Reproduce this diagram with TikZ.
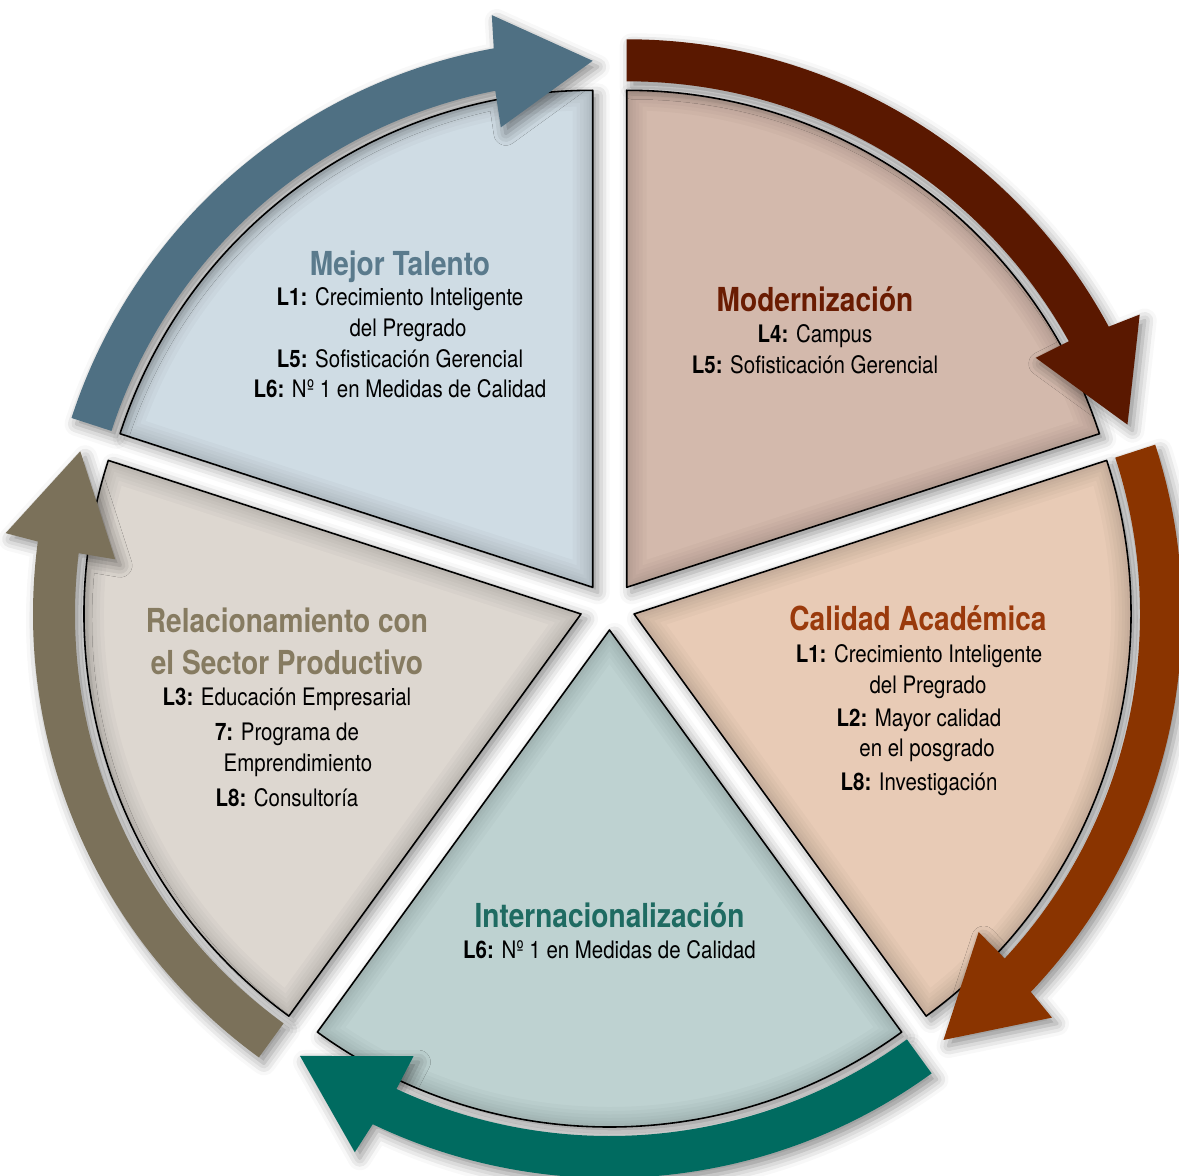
\documentclass[tikz,border=0pt]{standalone}
\usepackage{fontspec}
\setmainfont{TeX Gyre Heros}[FakeStretch=0.85]
\usetikzlibrary{shadows.blur}

\definecolor{talentofill}{HTML}{CFDCE4}
\definecolor{talentodark}{HTML}{4F7083}
\definecolor{talentotext}{HTML}{5A7A8C}
\definecolor{modernfill}{HTML}{D3B9AC}
\definecolor{moderndark}{HTML}{5A1800}
\definecolor{moderntext}{HTML}{6A1C02}
\definecolor{calidadfill}{HTML}{E8CBB6}
\definecolor{calidaddark}{HTML}{8A3400}
\definecolor{calidadtext}{HTML}{9A3A0C}
\definecolor{interfill}{HTML}{BED2D1}
\definecolor{interdark}{HTML}{006B60}
\definecolor{intertext}{HTML}{1F6B62}
\definecolor{relfill}{HTML}{DDD7D0}
\definecolor{reldark}{HTML}{7B715A}
\definecolor{reltext}{HTML}{867B61}

\newcommand{\titlefont}{\fontsize{9.4}{11.9}\selectfont\bfseries}
\newcommand{\bodyfont}{\fontsize{6.85}{8.7}\selectfont}

% one piece of the wheel: apex, first angle, second angle, fill
\newcommand{\wheelpiece}[4]{%
\fill[#4, piece shadow] (#1) -- ++(#2:4.97) arc[start angle=#2, end angle=#3, radius=4.97] -- cycle;
\begin{scope}
\clip (#1) -- ++(#2:4.97) arc[start angle=#2, end angle=#3, radius=4.97] -- cycle;
\draw [rim, line width=0.40cm] (#1) -- ++(#2:4.97) arc[start angle=#2, end angle=#3, radius=4.97] -- cycle;
\draw [rim, line width=0.32cm] (#1) -- ++(#2:4.97) arc[start angle=#2, end angle=#3, radius=4.97] -- cycle;
\draw [rim, line width=0.25cm] (#1) -- ++(#2:4.97) arc[start angle=#2, end angle=#3, radius=4.97] -- cycle;
\draw [rim, line width=0.18cm] (#1) -- ++(#2:4.97) arc[start angle=#2, end angle=#3, radius=4.97] -- cycle;
\draw [rim, line width=0.12cm] (#1) -- ++(#2:4.97) arc[start angle=#2, end angle=#3, radius=4.97] -- cycle;
\draw [rim, line width=0.07cm] (#1) -- ++(#2:4.97) arc[start angle=#2, end angle=#3, radius=4.97] -- cycle;
\end{scope}
\draw [line width=0.45pt] (#1) -- ++(#2:4.97) arc[start angle=#2, end angle=#3, radius=4.97] -- cycle;}

% bent arrow round a piece: apex, tail angle, tip angle, colour
\newcommand{\bentarrow}[4]{%
\begin{scope}[shift={(#1)}]
\fill[#4, arrow shadow] (#2:5.06) arc[start angle=#2, end angle=#3+11.1, radius=5.06]
  -- (#3+11.3:4.69) -- (#3:5.265) -- (#3+10:5.81) -- (#3+10.4:5.48)
  arc[start angle=#3+10.4, end angle=#2, radius=5.48] -- cycle;
\end{scope}}

\begin{document}
\begin{tikzpicture}[line cap=round,line join=round,x=1.0cm,y=1.0cm,
  piece shadow/.style={blur shadow={shadow xshift=0.05cm,shadow yshift=-0.05cm,shadow blur radius=0.12cm,shadow opacity=45}},
  arrow shadow/.style={blur shadow={shadow xshift=0.05cm,shadow yshift=-0.06cm,shadow blur radius=0.12cm,shadow opacity=45}},
  rim/.style={black,opacity=0.025},
  heading/.style={font=\titlefont,align=center,inner sep=0pt},
  listing/.style={font=\bodyfont,align=center,inner sep=0pt}]

\useasboundingbox (-6.095,-5.67) rectangle (5.695,6.08);

\wheelpiece{-0.168,0.207}{90}{162}{talentofill}
\wheelpiece{0.172,0.207}{18}{90}{modernfill}
\wheelpiece{0.245,-0.06}{-54}{18}{calidadfill}
\wheelpiece{0,-0.22}{234}{306}{interfill}
\wheelpiece{-0.285,-0.06}{162}{234}{relfill}

\bentarrow{-0.168,0.207}{162}{90}{talentodark}
\bentarrow{0.172,0.207}{90}{18}{moderndark}
\bentarrow{0.245,-0.06}{18}{-54}{calidaddark}
\bentarrow{0,-0.22}{306}{234}{interdark}
\bentarrow{-0.285,-0.06}{234}{162}{reldark}

\node[heading, text=talentotext] (talento) at (-2.095,3.41) {Mejor Talento};
\node[listing] (talentolist) at (-2.095,2.65) {\textbf{L1:} Crecimiento Inteligente\\
  \hspace*{0.16cm}del Pregrado\\ \textbf{L5:} Sofisticación Gerencial\\ \textbf{L6:} Nº 1 en Medidas de Calidad};

\node[heading, text=moderntext] (modern) at (2.055,3.09) {Modernización};
\node[listing] (modernlist) at (2.055,2.59) {\textbf{L4:} Campus\\ \textbf{L5:} Sofisticación Gerencial};

\node[heading, text=calidadtext] (calidad) at (3.085,-0.10) {Calidad Académica};
\node[listing] (calidadlist) at (3.095,-1.12) {\textbf{L1:} Crecimiento Inteligente\\
  \hspace*{0.18cm}del Pregrado\\[0.025cm] \textbf{L2:} Mayor calidad\\ \hspace*{0.16cm}en el posgrado\\[0.025cm] \textbf{L8:} Investigación};

\node[heading, text=intertext] (inter) at (0,-3.07) {Internacionalización};
\node[listing] (interlist) at (0,-3.42) {\textbf{L6:} Nº 1 en Medidas de Calidad};

\node[heading, text=reltext] (rel) at (-3.225,-0.33) {Relacionamiento con\\ el Sector Productivo};
\node[listing] (rellist) at (-3.225,-1.395) {\textbf{L3:} Educación Empresarial\\[0.045cm]
  \textbf{7:} Programa de\\ \hspace*{0.22cm}Emprendimiento\\[0.045cm] \textbf{L8:} Consultoría};
\end{tikzpicture}
\end{document}
